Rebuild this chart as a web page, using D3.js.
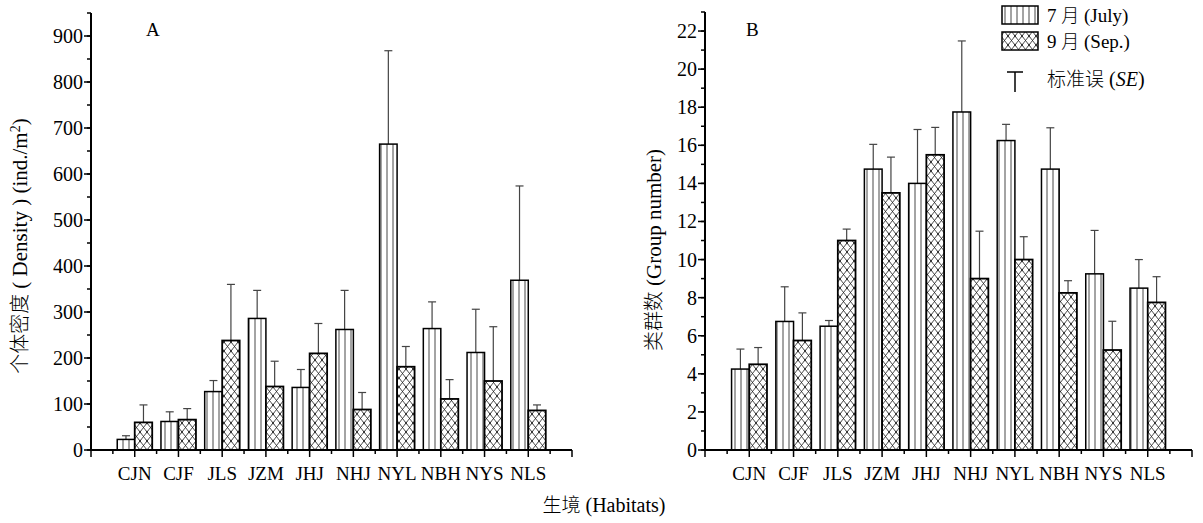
<!DOCTYPE html>
<html>
<head>
<meta charset="utf-8">
<script src="https://cdn.jsdelivr.net/npm/d3@7.9.0/dist/d3.min.js"></script>
<style>
  html, body { margin: 0; padding: 0; background: #fff; }
  text, tspan { font-family: "Liberation Serif"; }
  .cjk { font-family: "Noto Sans CJK SC"; font-weight: 300; }
</style>
</head>
<body>
<div id="chart"></div>
<script>
const habitats = ["CJN", "CJF", "JLS", "JZM", "JHJ", "NHJ", "NYL", "NBH", "NYS", "NLS"];

// panel A: density (ind./m2)
const densityJuly = [23, 62, 127, 286, 136, 262, 665, 264, 212, 369];
const densityJulySE = [8, 21, 24, 61, 39, 85, 203, 58, 94, 205];
const densitySep = [60, 66, 238, 138, 210, 88, 181, 111, 150, 86];
const densitySepSE = [38, 24, 122, 55, 65, 37, 44, 42, 118, 12];
const densityTicks = [0, 100, 200, 300, 400, 500, 600, 700, 800, 900];

// panel B: group number
const groupJuly = [4.25, 6.75, 6.5, 14.75, 14, 17.75, 16.25, 14.75, 9.25, 8.5];
const groupJulySE = [1.05, 1.82, 0.3, 1.3, 2.83, 3.73, 0.85, 2.17, 2.28, 1.5];
const groupSep = [4.5, 5.75, 11, 13.5, 15.5, 9, 10, 8.25, 5.25, 7.75];
const groupSepSE = [0.88, 1.45, 0.6, 1.88, 1.44, 2.49, 1.2, 0.64, 1.51, 1.35];
const groupTicks = [0, 2, 4, 6, 8, 10, 12, 14, 16, 18, 20, 22];

const width = 1203, height = 523;

const svg = d3.select("#chart").append("svg")
  .attr("width", width)
  .attr("height", height);

// mixed text: [string, cjk?, italic?]
function addRuns(text, runs) {
  runs.forEach(([s, cjk, it]) => {
    const t = text.append("tspan").text(s);
    if (cjk) t.attr("class", "cjk").style("font-size", "0.95em");
    if (it) t.style("font-style", "italic");
  });
  return text;
}

// fill patterns
const defs = svg.append("defs");
const vlines = defs.append("pattern")
  .attr("id", "vlines")
  .attr("patternUnits", "userSpaceOnUse")
  .attr("width", 6).attr("height", 10);
vlines.append("rect").attr("width", 6).attr("height", 10).attr("fill", "#fff");
vlines.append("line")
  .attr("x1", 3).attr("x2", 3).attr("y1", 0).attr("y2", 10)
  .attr("stroke", "#333").attr("stroke-width", 0.9);

const cross = defs.append("pattern")
  .attr("id", "cross")
  .attr("patternUnits", "userSpaceOnUse")
  .attr("width", 7).attr("height", 9);
cross.append("rect").attr("width", 7).attr("height", 9).attr("fill", "#fff");
cross.append("path")
  .attr("d", "M0,0L7,9M7,0L0,9M-1,-1.29L1,1.29M6,7.71L8,10.29M6,1.29L8,-1.29M-1,10.29L1,7.71")
  .attr("stroke", "#222").attr("stroke-width", 0.8).attr("fill", "none");

function drawPanel(cfg) {
  const x = d3.scaleLinear().domain([0, 11]).range([cfg.left, cfg.right]);
  const y = d3.scaleLinear().domain([0, cfg.ymax]).range([cfg.bottom, cfg.top]);
  const unit = x(1) - x(0);
  const bw = unit * 0.4;

  const g = svg.append("g");

  const series = [
    { values: cfg.july, se: cfg.julySE, fill: "url(#vlines)", offset: -bw, sw: 1.5 },
    { values: cfg.sep, se: cfg.sepSE, fill: "url(#cross)", offset: 0, sw: 1.8 }
  ];

  series.forEach(s => {
    const rows = habitats.map((h, i) => ({ i, v: s.values[i], e: s.se[i] }));

    // error bars (upper only)
    const eb = g.append("g").selectAll("g").data(rows).join("g");
    eb.append("line")
      .attr("x1", d => x(d.i + 1) + s.offset + bw / 2)
      .attr("x2", d => x(d.i + 1) + s.offset + bw / 2)
      .attr("y1", d => y(d.v))
      .attr("y2", d => y(d.v + d.e))
      .attr("stroke", "#444").attr("stroke-width", 1.2);
    eb.append("line")
      .attr("x1", d => x(d.i + 1) + s.offset + bw / 2 - 4)
      .attr("x2", d => x(d.i + 1) + s.offset + bw / 2 + 4)
      .attr("y1", d => y(d.v + d.e))
      .attr("y2", d => y(d.v + d.e))
      .attr("stroke", "#444").attr("stroke-width", 1.2);

    g.append("g").selectAll("rect").data(rows).join("rect")
      .attr("x", d => x(d.i + 1) + s.offset)
      .attr("y", d => y(d.v))
      .attr("width", bw)
      .attr("height", d => y(0) - y(d.v))
      .attr("fill", s.fill)
      .attr("stroke", "#000")
      .attr("stroke-width", s.sw);
  });

  // y axis
  const yAxis = g.append("g").attr("transform", `translate(${cfg.left},0)`);
  yAxis.append("line")
    .attr("x1", 0).attr("x2", 0)
    .attr("y1", y(0) + 1).attr("y2", cfg.top)
    .attr("stroke", "#000").attr("stroke-width", 2);
  yAxis.selectAll(".minor").data(d3.range(0, cfg.ymax + 0.001, cfg.minorStep))
    .join("line")
    .attr("x1", -4).attr("x2", 0)
    .attr("y1", d => y(d)).attr("y2", d => y(d))
    .attr("stroke", "#000").attr("stroke-width", 1.5);
  yAxis.selectAll(".major").data(cfg.ticks).join("line")
    .attr("x1", -7).attr("x2", 0)
    .attr("y1", d => y(d)).attr("y2", d => y(d))
    .attr("stroke", "#000").attr("stroke-width", 1.5);
  yAxis.selectAll("text").data(cfg.ticks).join("text")
    .attr("x", -8)
    .attr("y", d => y(d))
    .attr("dy", "0.35em")
    .attr("text-anchor", "end")
    .style("font-size", "20px")
    .text(d => d);

  // x axis
  const xAxis = g.append("g").attr("transform", `translate(0,${cfg.bottom})`);
  xAxis.append("line")
    .attr("x1", cfg.left).attr("x2", cfg.right)
    .attr("y1", 0).attr("y2", 0)
    .attr("stroke", "#000").attr("stroke-width", 2);
  xAxis.selectAll(".minor").data(d3.range(0.5, 11, 1)).join("line")
    .attr("x1", d => x(d)).attr("x2", d => x(d))
    .attr("y1", 0).attr("y2", 4)
    .attr("stroke", "#000").attr("stroke-width", 1.5);
  xAxis.selectAll(".major").data(d3.range(0, 12, 1)).join("line")
    .attr("x1", d => x(d)).attr("x2", d => x(d))
    .attr("y1", 0).attr("y2", 7)
    .attr("stroke", "#000").attr("stroke-width", 1.5);
  xAxis.selectAll("text").data(habitats).join("text")
    .attr("x", (d, i) => x(i + 1))
    .attr("y", 30)
    .attr("text-anchor", "middle")
    .style("font-size", "19px")
    .text(d => d);

  // panel letter
  g.append("text")
    .attr("x", cfg.letterX).attr("y", 36)
    .style("font-size", "19px")
    .text(cfg.letter);

  // y title
  const yt = g.append("text")
    .attr("transform", `translate(${cfg.titleX},${cfg.titleY}) rotate(-90)`)
    .attr("text-anchor", "middle")
    .style("font-size", "21px");
  cfg.title(yt);
}

drawPanel({
  left: 91, right: 572, top: 13, bottom: 450, ymax: 950, minorStep: 50,
  ticks: densityTicks,
  july: densityJuly, julySE: densityJulySE, sep: densitySep, sepSE: densitySepSE,
  letter: "A", letterX: 146,
  titleX: 27, titleY: 246,
  title: t => {
    addRuns(t, [["个体密度", true], [" ( Density ) (ind./m"]]);
    t.append("tspan").attr("baseline-shift", "super").style("font-size", "14px").text("2");
    t.append("tspan").text(")");
  }
});

drawPanel({
  left: 705, right: 1192, top: 12, bottom: 450, ymax: 23, minorStep: 1,
  ticks: groupTicks,
  july: groupJuly, julySE: groupJulySE, sep: groupSep, sepSE: groupSepSE,
  letter: "B", letterX: 746,
  titleX: 661, titleY: 250,
  title: t => addRuns(t, [["类群数", true], [" (Group number)"]])
});

// shared x title
addRuns(svg.append("text")
  .attr("x", 604).attr("y", 512)
  .attr("text-anchor", "middle")
  .style("font-size", "20px"), [["生境", true], [" (Habitats)"]]);

// legend
const legend = svg.append("g");
const legendItems = [
  { num: "7 ", month: "月", rest: " (July)", fill: "url(#vlines)", y: 6 },
  { num: "9 ", month: "月", rest: " (Sep.)", fill: "url(#cross)", y: 32 }
];
legendItems.forEach(item => {
  legend.append("rect")
    .attr("x", 1002).attr("y", item.y)
    .attr("width", 36).attr("height", 18)
    .attr("fill", item.fill)
    .attr("stroke", "#000").attr("stroke-width", 1.5);
  addRuns(legend.append("text")
    .attr("x", 1047).attr("y", item.y + 16)
    .style("font-size", "19px"), [[item.num], [item.month, true], [item.rest]]);
});
legend.append("line")
  .attr("x1", 1015).attr("x2", 1015).attr("y1", 72).attr("y2", 92)
  .attr("stroke", "#000").attr("stroke-width", 1.5);
legend.append("line")
  .attr("x1", 1007).attr("x2", 1023).attr("y1", 72).attr("y2", 72)
  .attr("stroke", "#000").attr("stroke-width", 1.5);
addRuns(legend.append("text")
  .attr("x", 1047).attr("y", 86)
  .style("font-size", "20px"), [["标准误", true], [" ("], ["SE", false, true], [")"]]);
</script>
</body>
</html>
